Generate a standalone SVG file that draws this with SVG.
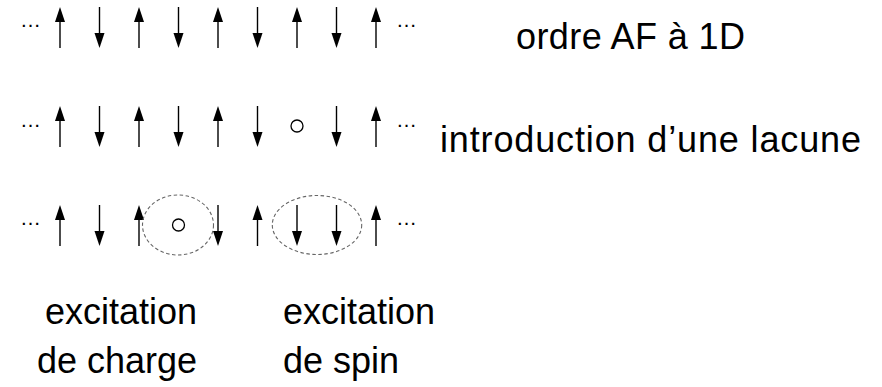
<svg xmlns="http://www.w3.org/2000/svg" xmlns:xlink="http://www.w3.org/1999/xlink" width="882" height="387" viewBox="0 0 882 387">
<style>
  .lbl { font-family: "Liberation Sans", Arial, Helvetica, sans-serif; font-size: 36px; fill: #000; }
  .dots { font-family: "Liberation Sans", Arial, sans-serif; font-size: 21px; fill: #000; }
  .hole { fill: none; stroke: #000; stroke-width: 1.3; }
  .excit { fill: none; stroke: #666; stroke-width: 1.1; stroke-dasharray: 3.5 2.5; }
</style>
<defs>
  <g id="up">
    <line x1="0" y1="14" x2="0" y2="41" stroke="#000" stroke-width="1.4"/>
    <polygon points="0,0 -5,15 5,15" fill="#000"/>
  </g>
  <g id="down">
    <line x1="0" y1="0" x2="0" y2="27" stroke="#000" stroke-width="1.4"/>
    <polygon points="0,41 -5,26 5,26" fill="#000"/>
  </g>
</defs>

<!-- Row 1: ordre AF à 1D -->
<g id="row1">
  <text class="dots" x="20" y="27">…</text>
  <use id="r1s1" href="#up" x="60" y="7"/>
  <use id="r1s2" href="#down" x="99.5" y="7"/>
  <use id="r1s3" href="#up" x="139" y="7"/>
  <use id="r1s4" href="#down" x="178.5" y="7"/>
  <use id="r1s5" href="#up" x="218" y="7"/>
  <use id="r1s6" href="#down" x="257.5" y="7"/>
  <use id="r1s7" href="#up" x="297" y="7"/>
  <use id="r1s8" href="#down" x="336.5" y="7"/>
  <use id="r1s9" href="#up" x="376" y="7"/>
  <text class="dots" x="396" y="27">…</text>
  <text class="lbl" x="516" y="49" textLength="229" lengthAdjust="spacing">ordre AF à 1D</text>
</g>

<!-- Row 2: introduction d'une lacune -->
<g id="row2">
  <text class="dots" x="20" y="127">…</text>
  <use id="r2s1" href="#up" x="60" y="106"/>
  <use id="r2s2" href="#down" x="99.5" y="106"/>
  <use id="r2s3" href="#up" x="139" y="106"/>
  <use id="r2s4" href="#down" x="178.5" y="106"/>
  <use id="r2s5" href="#up" x="218" y="106"/>
  <use id="r2s6" href="#down" x="257.5" y="106"/>
  <circle id="r2hole" class="hole" cx="297" cy="126" r="6"/>
  <use id="r2s8" href="#down" x="336.5" y="106"/>
  <use id="r2s9" href="#up" x="376" y="106"/>
  <text class="dots" x="396" y="127">…</text>
  <text class="lbl" x="440" y="152" textLength="421" lengthAdjust="spacing">introduction d’une lacune</text>
</g>

<!-- Row 3: excitations -->
<g id="row3">
  <text class="dots" x="20" y="225">…</text>
  <use id="r3s1" href="#up" x="60" y="205"/>
  <use id="r3s2" href="#down" x="99.5" y="205"/>
  <use id="r3s3" href="#up" x="139" y="205"/>
  <circle id="r3hole" class="hole" cx="178.5" cy="225" r="6"/>
  <use id="r3s5" href="#down" x="218" y="205"/>
  <use id="r3s6" href="#up" x="257.5" y="205"/>
  <use id="r3s7" href="#down" x="297" y="205"/>
  <use id="r3s8" href="#down" x="336.5" y="205"/>
  <use id="r3s9" href="#up" x="376" y="205"/>
  <text class="dots" x="396" y="225">…</text>
</g>

<g id="charge-excitation">
  <ellipse class="excit" cx="178" cy="225" rx="35.5" ry="30"/>
  <text class="lbl" x="45" y="324">excitation</text>
  <text class="lbl" x="37" y="373">de charge</text>
</g>

<g id="spin-excitation">
  <ellipse class="excit" cx="317" cy="225" rx="44.7" ry="29.5"/>
  <text class="lbl" x="283" y="324">excitation</text>
  <text class="lbl" x="283" y="373">de spin</text>
</g>
</svg>
